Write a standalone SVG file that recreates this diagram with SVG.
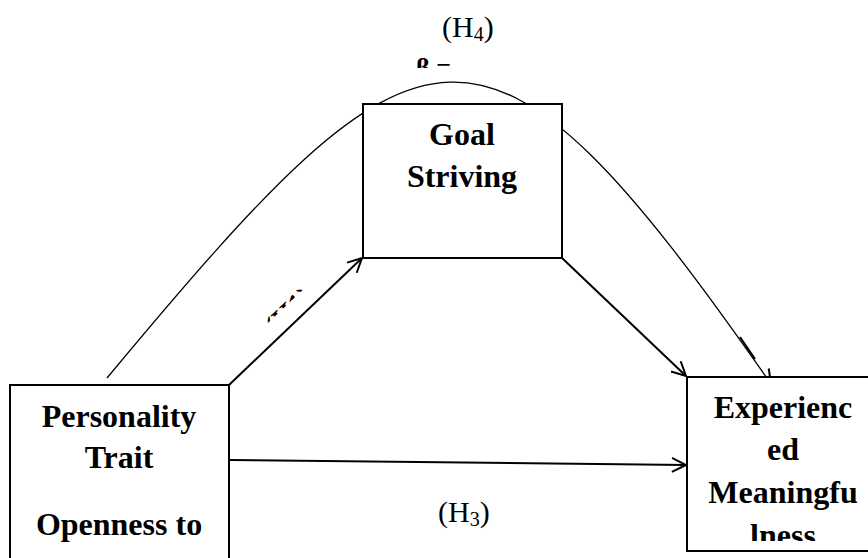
<svg xmlns="http://www.w3.org/2000/svg" width="868" height="558" viewBox="0 0 868 558">
<style>
.box{fill:#fff;stroke:#000;stroke-width:2}
.lbl{font-family:"Liberation Serif","Times New Roman",serif;font-weight:bold;font-size:32px;fill:#000;text-anchor:middle}
.h{font-family:"Liberation Serif","Times New Roman",serif;font-size:30px;fill:#000}
.con{fill:none;stroke:#000;stroke-width:2}
.curve{fill:none;stroke:#000;stroke-width:1.3}
</style>
<defs>
<marker id="ah" viewBox="-16 -9 18 18" refX="0" refY="0" markerWidth="18" markerHeight="18" markerUnits="userSpaceOnUse" orient="auto">
<path d="M-14,-7 L0,0 L-14,7" fill="none" stroke="#000" stroke-width="2"/>
</marker>
<clipPath id="clipExp"><rect x="687" y="377" width="200" height="164"/></clipPath>
<clipPath id="clipBeta"><rect x="380" y="40" width="120" height="28"/></clipPath>
<clipPath id="clipH1"><rect x="-10" y="-21" width="120" height="6"/></clipPath>
</defs>
<g id="connectors">
<line class="con" x1="229" y1="385" x2="362" y2="258" marker-end="url(#ah)"/>
<line class="con" x1="562" y1="258" x2="686" y2="376" marker-end="url(#ah)"/>
<line class="con" x1="230" y1="460" x2="686" y2="465" marker-end="url(#ah)"/>
<path class="curve" d="M107,378 C425,-4 482,-31 771,384" marker-end="url(#ah)"/>
<line class="con" x1="740" y1="337" x2="755" y2="359"/>
</g>
<g id="goal">
<rect class="box" x="363" y="104" width="199" height="154"/>
<text class="lbl" x="462" y="145">Goal</text>
<text class="lbl" x="462" y="187">Striving</text>
</g>
<g id="personality">
<rect class="box" x="10" y="385" width="219" height="200"/>
<text class="lbl" x="119" y="427">Personality</text>
<text class="lbl" x="119" y="468">Trait</text>
<text class="lbl" x="119" y="535">Openness to</text>
</g>
<g id="experienced">
<rect class="box" x="687" y="377" width="200" height="174"/>
<g clip-path="url(#clipExp)">
<text class="lbl" x="783" y="418">Experienc</text>
<text class="lbl" x="783" y="460">ed</text>
<text class="lbl" x="783" y="503">Meaningfu</text>
<text class="lbl" x="783" y="546">lness</text>
</g>
</g>
<g id="labels">
<text class="h" x="442" y="37">(H<tspan font-size="20" dy="4">4</tspan><tspan dy="-4">)</tspan></text>
<text class="h" x="438" y="522">(H<tspan font-size="20" dy="4">3</tspan><tspan dy="-4">)</tspan></text>
<text clip-path="url(#clipBeta)" x="416" y="76" style="font-family:'Liberation Serif',serif;font-weight:bold;font-size:26px">β =</text>
<g transform="translate(276,336) rotate(-43.5)">
<text clip-path="url(#clipH1)" x="0" y="0" style="font-family:'Liberation Serif',serif;font-weight:bold;font-size:28px">(H1) –</text>
</g>
</g>
</svg>
